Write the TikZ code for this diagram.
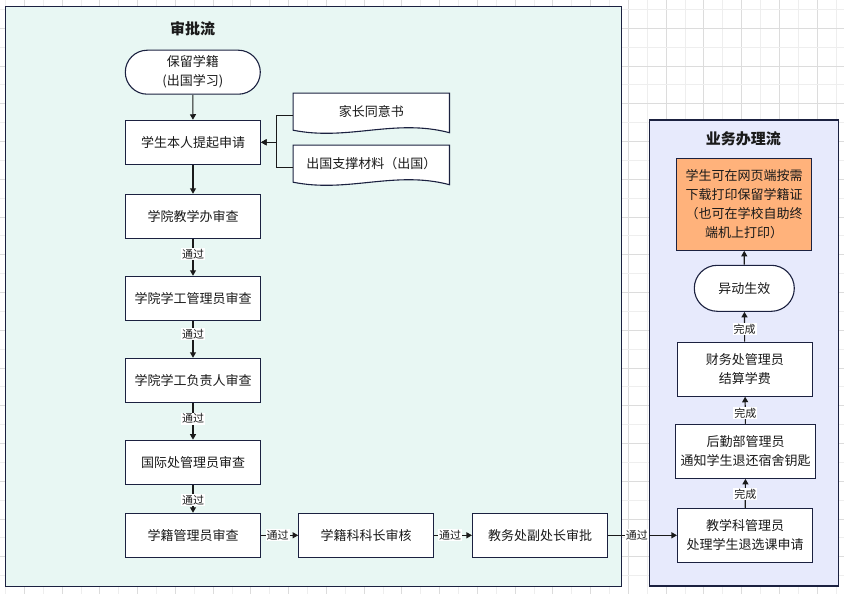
\documentclass[tikz,border=0pt]{standalone}
\usepackage{fontspec}
\setmainfont{Noto Sans CJK SC}
\usetikzlibrary{arrows.meta,shapes.misc,calc,backgrounds}
\definecolor{gridA}{HTML}{EEEEEE}
\definecolor{gridB}{HTML}{DCDCDC}
\definecolor{lanegreen}{HTML}{E8F7F3}
\definecolor{laneblue}{HTML}{E7EAFC}
\definecolor{edgecol}{HTML}{1B2140}
\definecolor{orangefill}{HTML}{FFB27B}
\definecolor{inkcol}{HTML}{1A1A1A}
\begin{document}
\begin{tikzpicture}[x=1pt,y=-1pt,
  lane/.style={draw=edgecol, line width=1.2pt},
  box/.style={draw=edgecol, line width=1.1pt, fill=white, minimum width=135pt, minimum height=44pt, inner sep=0pt, align=center, font=\fontsize{13}{19}\selectfont, text=inkcol},
  tall/.style={box, minimum height=54pt},
  term/.style={box, rounded rectangle},
  docbox/.style={minimum width=156pt, minimum height=36pt, inner sep=0pt, font=\fontsize{13}{19}\selectfont, text=inkcol},
  docline/.style={draw=edgecol, line width=1.1pt, fill=white},
  flow/.style={draw=inkcol, line width=1.1pt, -{Triangle[length=5.5pt,width=6pt]}},
  lbl/.style={fill=white, inner sep=1pt, font=\fontsize{11}{12}\selectfont, text=inkcol},
  title/.style={font=\fontsize{15}{18}\selectfont\bfseries, text=inkcol}
]
\useasboundingbox (0,0) rectangle (844,594);
\begin{scope}[on background layer]
  \fill[white] (0,0) rectangle (844,594);
  \foreach \k in {0,...,44}{
    \pgfmathsetmacro\gx{5.4+18.875*\k}
    \pgfmathtruncatemacro\odd{mod(\k,2)}
    \ifnum\odd=1 \draw[gridB,line width=0.8pt] (\gx,0) -- (\gx,594);
    \else \draw[gridA,line width=0.8pt] (\gx,0) -- (\gx,594); \fi
  }
  \foreach \k in {0,...,31}{
    \pgfmathsetmacro\gy{9.3+18.875*\k}
    \pgfmathtruncatemacro\odd{mod(\k,2)}
    \ifnum\odd=1 \draw[gridB,line width=0.8pt] (0,\gy) -- (844,\gy);
    \else \draw[gridA,line width=0.8pt] (0,\gy) -- (844,\gy); \fi
  }
  \path[lane, fill=lanegreen] (5.3,6.7) rectangle (621.3,586.7);
  \path[lane, fill=laneblue] (649.3,120) rectangle (838.3,586);
\end{scope}

\node[title] (t1) at (192.7,29) {审批流};
\node[title] (t2) at (743.3,139.3) {业务办理流};

% left column
\node[term] (start) at (192.8,72.2) {保留学籍\\(出国学习)};
\node[box] (s1) at (193,142.3) {学生本人提起申请};
\node[box] (s2) at (193,216.3) {学院教学办审查};
\node[box] (s3) at (193,298.3) {学院学工管理员审查};
\node[box] (s4) at (193,380.3) {学院学工负责人审查};
\node[box] (s5) at (193,462.2) {国际处管理员审查};
\node[box] (s6) at (193,535.3) {学籍管理员审查};
\node[box] (s7) at (366.2,535.3) {学籍科科长审核};
\node[box] (s8) at (540,535.3) {教务处副处长审批};

% documents
\node[docbox] (d1) at (371.3,111.3) {家长同意书};
\node[docbox] (d2) at (371.3,163.3) {出国支撑材料（出国）};
\begin{scope}[on background layer]
\foreach \d in {d1,d2}{
  \draw[docline] (\d.north west) -- (\d.north east) -- ([yshift=-3.2pt]\d.south east)
    .. controls ($(\d.south west)!0.65!(\d.south east)+(0,-11.3)$) and ($(\d.south west)!0.35!(\d.south east)+(0,11.7)$) .. ([yshift=-0.7pt]\d.south west) -- cycle;
}
\end{scope}

% right column
\node[tall] (r1) at (745,535.3) {教学科管理员\\处理学生退选课申请};
\node[tall, minimum width=140pt] (r2) at (745.7,451.3) {后勤部管理员\\通知学生退还宿舍钥匙};
\node[tall] (r3) at (744.8,369.2) {财务处管理员\\结算学费};
\node[term, minimum width=100pt, minimum height=46pt] (r4) at (744.3,288.3) {异动生效};
\node[box, fill=orangefill, minimum height=92pt] (r5) at (744.2,204.3) {学生可在网页端按需\\下载打印保留学籍证\\（也可在学校自助终\\端机上打印）};

% connectors
\draw[flow] (start) -- (s1);
\draw[flow] ([yshift=-4pt]d1.west) -- ++(-16.6,0) |- (s1.east);
\draw[flow] ([yshift=-4pt]d2.west) -- ++(-16.6,0) |- (s1.east);
\draw[flow] (s1) -- (s2);
\draw[flow] (s2) -- node[lbl, pos=0.41] {通过} (s3);
\draw[flow] (s3) -- node[lbl, pos=0.36] {通过} (s4);
\draw[flow] (s4) -- node[lbl, pos=0.43] {通过} (s5);
\draw[flow] (s5) -- node[lbl, pos=0.54] {通过} (s6);
\draw[flow] (s6) -- node[lbl, pos=0.45] {通过} (s7);
\draw[flow] (s7) -- node[lbl, pos=0.42] {通过} (s8);
\draw[flow] (s8) -- node[lbl, pos=0.42] {通过} (r1);
\draw[flow] (r1) -- node[lbl, pos=0.48] {完成} (r2);
\draw[flow] (r2) -- node[lbl, pos=0.40] {完成} (r3);
\draw[flow] (r3) -- node[lbl, pos=0.43] {完成} (r4);
\draw[flow] (r4) -- (r5);
\end{tikzpicture}
\end{document}
